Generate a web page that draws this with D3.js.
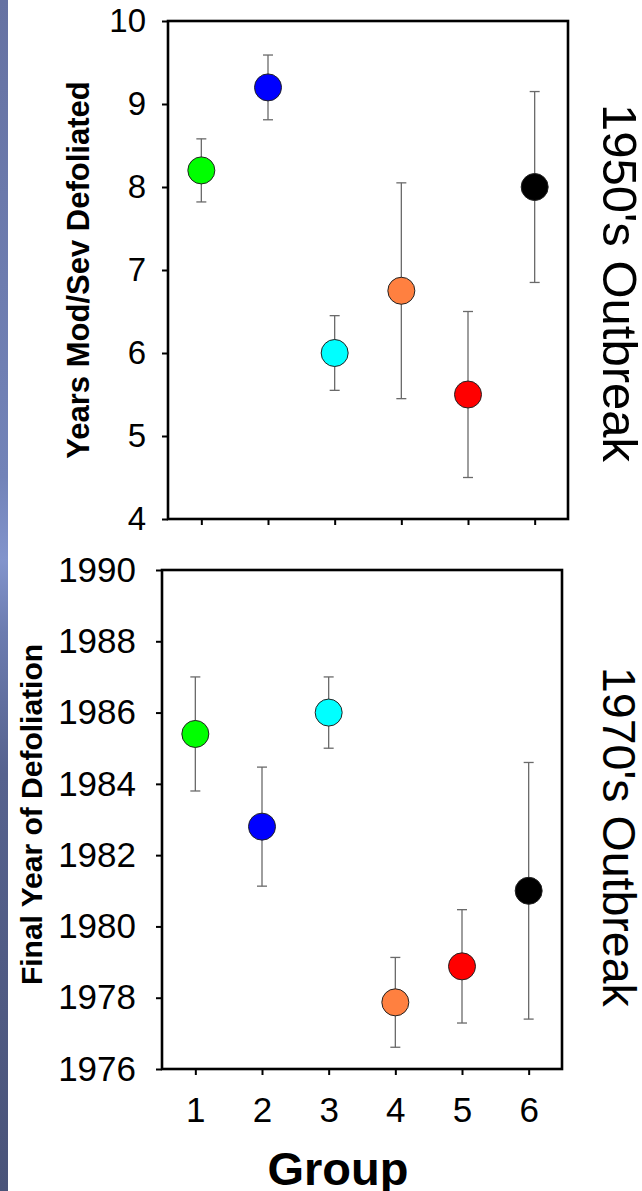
<!DOCTYPE html>
<html>
<head>
<meta charset="utf-8">
<script src="https://cdn.jsdelivr.net/npm/d3@7"></script>
<style>
  html, body { margin: 0; padding: 0; background: #fff; }
  svg { display: block; font-family: "Liberation Sans", Arial, sans-serif; }
</style>
</head>
<body>
<svg id="chart" width="642" height="1191"></svg>
<script>
// ---- data ----
const groups = [1, 2, 3, 4, 5, 6];
const groupColors = ["#00ff00", "#0000ff", "#00ffff", "#ff8040", "#ff0000", "#000000"];
const years1950 = [8.2, 9.2, 6.0, 6.75, 5.5, 8.0];
const err1950 = [0.38, 0.39, 0.45, 1.3, 1.0, 1.15];
const final1970 = [1985.4, 1982.8, 1986.0, 1977.87, 1978.88, 1981.0];
const err1970 = [1.6, 1.67, 1.0, 1.26, 1.59, 3.6];
const ticks1950 = [4, 5, 6, 7, 8, 9, 10];
const ticks1970 = [1976, 1978, 1980, 1982, 1984, 1986, 1988, 1990];

const svg = d3.select("#chart");

// slide edge strip
const defs = svg.append("defs");
const grad = defs.append("linearGradient").attr("id", "edge").attr("x1", 0).attr("x2", 0).attr("y1", 0).attr("y2", 1);
[["0", "#6672a2"], ["0.40", "#7283b8"], ["0.47", "#8294cc"], ["0.53", "#6c7cb0"], ["0.65", "#56628e"], ["1", "#4a5479"]]
  .forEach(([o, c]) => grad.append("stop").attr("offset", o).attr("stop-color", c));
svg.append("rect").attr("x", 0).attr("y", 0).attr("width", 8).attr("height", 1191).attr("fill", "url(#edge)");

function panel(cfg) {
  const x = d3.scaleLinear().domain([0.5, 6.5]).range([cfg.left, cfg.right]);
  const y = d3.scaleLinear().domain(cfg.domain).range([cfg.bottom, cfg.top]);
  const g = svg.append("g");

  // y axis ticks + labels
  const ya = d3.axisLeft(y).tickValues(cfg.ticks).tickSize(6).tickPadding(cfg.ypad).tickFormat(d3.format("d"));
  const yg = g.append("g").attr("transform", `translate(${cfg.left},0)`).call(ya);
  yg.select(".domain").remove();
  yg.selectAll("line").attr("stroke", "#000").attr("stroke-width", 2);
  yg.selectAll("text").attr("font-size", cfg.tickFont).attr("fill", "#000")
    .attr("font-family", "Liberation Sans, Arial, sans-serif");

  // x axis ticks
  const xa = d3.axisBottom(x).tickValues(groups).tickSize(6).tickPadding(cfg.xpad)
    .tickFormat(cfg.showX ? d3.format("d") : "");
  const xg = g.append("g").attr("transform", `translate(0,${cfg.bottom})`).call(xa);
  xg.select(".domain").remove();
  xg.selectAll("line").attr("stroke", "#000").attr("stroke-width", 2);
  xg.selectAll("text").attr("font-size", cfg.tickFont).attr("fill", "#000")
    .attr("font-family", "Liberation Sans, Arial, sans-serif");

  // frame
  g.append("rect").attr("x", cfg.left).attr("y", cfg.top)
    .attr("width", cfg.right - cfg.left).attr("height", cfg.bottom - cfg.top)
    .attr("fill", "none").attr("stroke", "#000").attr("stroke-width", 2.6);

  // error bars
  const eb = g.append("g").attr("stroke", "#6a6a6a").attr("stroke-width", 1.3);
  groups.forEach((gr, i) => {
    const cx = x(gr), hi = y(cfg.values[i] + cfg.errs[i]), lo = y(cfg.values[i] - cfg.errs[i]);
    eb.append("line").attr("x1", cx).attr("x2", cx).attr("y1", hi).attr("y2", lo);
    eb.append("line").attr("x1", cx - 5).attr("x2", cx + 5).attr("y1", hi).attr("y2", hi);
    eb.append("line").attr("x1", cx - 5).attr("x2", cx + 5).attr("y1", lo).attr("y2", lo);
  });

  // points
  g.append("g").selectAll("circle").data(groups).join("circle")
    .attr("cx", d => x(d)).attr("cy", (d, i) => y(cfg.values[i]))
    .attr("r", 13.5).attr("fill", (d, i) => groupColors[i])
    .attr("stroke", "#222").attr("stroke-width", 1);

  // y title
  g.append("text")
    .attr("transform", `translate(${cfg.ytitleX},${(cfg.top + cfg.bottom) / 2 + cfg.ytitleDy}) rotate(-90)`)
    .attr("text-anchor", "middle").attr("font-weight", "bold").attr("font-size", cfg.ytitleFont)
    .text(cfg.ytitle);

  // right title
  g.append("text")
    .attr("transform", `translate(603,${cfg.rtitleY}) rotate(90)`)
    .attr("text-anchor", "start").attr("font-size", cfg.rtitleFont)
    .text(cfg.rtitle);
  return { x, y };
}

panel({
  left: 168, right: 568, top: 21, bottom: 519,
  domain: [4, 10], ticks: ticks1950, values: years1950, errs: err1950,
  tickFont: 33, ypad: 16, xpad: 8, showX: false,
  ytitle: "Years Mod/Sev Defoliated", ytitleX: 89, ytitleDy: 0, ytitleFont: 31,
  rtitle: "1950's Outbreak", rtitleY: 104, rtitleFont: 49
});

panel({
  left: 162, right: 562, top: 570, bottom: 1069,
  domain: [1976, 1990], ticks: ticks1970, values: final1970, errs: err1970,
  tickFont: 35, ypad: 20, xpad: 22, showX: true,
  ytitle: "Final Year of Defoliation", ytitleX: 42, ytitleDy: -5, ytitleFont: 30,
  rtitle: "1970's Outbreak", rtitleY: 667, rtitleFont: 46.5
});

// x axis title
svg.append("text").attr("x", 338).attr("y", 1185)
  .attr("text-anchor", "middle").attr("font-weight", "bold").attr("font-size", 47)
  .text("Group");
</script>
</body>
</html>
